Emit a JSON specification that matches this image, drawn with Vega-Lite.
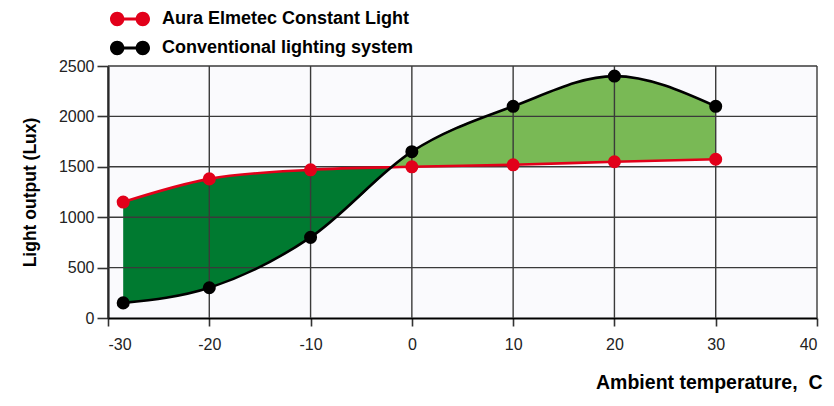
{
  "$schema": "https://vega.github.io/schema/vega-lite/v6.json",
  "autosize": {"type": "none"},
  "padding": {"left": 108, "top": 66, "right": 17, "bottom": 88},
  "width": 709,
  "height": 252,
  "background": "#ffffff",
  "config": {
    "view": {"stroke": null, "fill": "#fafafd"},
    "font": "Liberation Sans"
  },
  "datasets": {
    "series": [
      {"t": -28.5, "series": "Aura Elmetec Constant Light", "lux": 1150},
      {"t": -20, "series": "Aura Elmetec Constant Light", "lux": 1380},
      {"t": -10, "series": "Aura Elmetec Constant Light", "lux": 1470},
      {"t": 0, "series": "Aura Elmetec Constant Light", "lux": 1500},
      {"t": 10, "series": "Aura Elmetec Constant Light", "lux": 1520},
      {"t": 20, "series": "Aura Elmetec Constant Light", "lux": 1550},
      {"t": 30, "series": "Aura Elmetec Constant Light", "lux": 1575},
      {"t": -28.5, "series": "Conventional lighting system", "lux": 150},
      {"t": -20, "series": "Conventional lighting system", "lux": 300},
      {"t": -10, "series": "Conventional lighting system", "lux": 800},
      {"t": 0, "series": "Conventional lighting system", "lux": 1650},
      {"t": 10, "series": "Conventional lighting system", "lux": 2100},
      {"t": 20, "series": "Conventional lighting system", "lux": 2400},
      {"t": 30, "series": "Conventional lighting system", "lux": 2100}
    ],
    "bands": [
      {"t": -28.5, "red": 1150, "black": 150, "seg": "below"},
      {"t": -20, "red": 1380, "black": 300, "seg": "below"},
      {"t": -10, "red": 1470, "black": 800, "seg": "below"},
      {"t": -2, "red": 1495, "black": 1495, "seg": "below"},
      {"t": -2, "red": 1495, "black": 1495, "seg": "above"},
      {"t": 0, "red": 1500, "black": 1650, "seg": "above"},
      {"t": 10, "red": 1520, "black": 2100, "seg": "above"},
      {"t": 20, "red": 1550, "black": 2400, "seg": "above"},
      {"t": 30, "red": 1575, "black": 2100, "seg": "above"}
    ],
    "xgrid": [{"t": -30}, {"t": -20}, {"t": -10}, {"t": 0}, {"t": 10}, {"t": 20}, {"t": 30}, {"t": 40}],
    "ygrid": [{"v": 500}, {"v": 1000}, {"v": 1500}, {"v": 2000}, {"v": 2500}]
  },
  "layer": [
    {
      "data": {"name": "bands"},
      "transform": [{"filter": "datum.seg === 'below'"}],
      "mark": {"type": "area", "interpolate": "monotone", "color": "#007a30", "opacity": 1},
      "encoding": {
        "x": {"field": "t", "type": "quantitative"},
        "y": {"field": "red", "type": "quantitative"},
        "y2": {"field": "black"}
      }
    },
    {
      "data": {"name": "bands"},
      "transform": [{"filter": "datum.seg === 'above'"}],
      "mark": {"type": "area", "interpolate": "monotone", "color": "#79b955", "opacity": 1},
      "encoding": {
        "x": {"field": "t", "type": "quantitative"},
        "y": {"field": "black", "type": "quantitative"},
        "y2": {"field": "red"}
      }
    },
    {
      "data": {"name": "xgrid"},
      "mark": {"type": "rule", "color": "#3a3a3a", "strokeWidth": 1.4},
      "encoding": {"x": {"field": "t", "type": "quantitative"}}
    },
    {
      "data": {"name": "ygrid"},
      "mark": {"type": "rule", "color": "#3a3a3a", "strokeWidth": 1.4},
      "encoding": {"y": {"field": "v", "type": "quantitative"}}
    },
    {
      "data": {"name": "series"},
      "mark": {"type": "line", "interpolate": "monotone", "strokeWidth": 2.6},
      "encoding": {
        "x": {"field": "t", "type": "quantitative"},
        "y": {"field": "lux", "type": "quantitative"},
        "color": {"field": "series", "type": "nominal"},
        "order": {"field": "series", "sort": "descending"}
      }
    },
    {
      "data": {"name": "series"},
      "mark": {"type": "point", "filled": true, "size": 170, "opacity": 1, "shape": "circle"},
      "encoding": {
        "x": {
          "field": "t", "type": "quantitative",
          "scale": {"domain": [-30, 40], "nice": false, "zero": false},
          "axis": {
            "values": [-30, -20, -10, 0, 10, 20, 30, 40],
            "labelExpr": "'' + datum.value",
            "grid": false,
            "domainColor": "#000000", "domainWidth": 2,
            "tickColor": "#333333", "tickWidth": 1.6, "tickSize": 8,
            "labelFontSize": 16, "labelColor": "#222222", "labelPadding": 10,
            "title": "Ambient temperature,\u00a0\u00a0C",
            "titleFontSize": 19.5, "titleFontWeight": "bold", "titleColor": "#000000",
            "titleAnchor": "end", "titleAlign": "right", "titleX": 714, "titleY": 64, "titleBaseline": "middle"
          }
        },
        "y": {
          "field": "lux", "type": "quantitative",
          "scale": {"domain": [0, 2500], "nice": false},
          "axis": {
            "values": [0, 500, 1000, 1500, 2000, 2500],
            "labelExpr": "'' + datum.value",
            "grid": false,
            "domainColor": "#000000", "domainWidth": 2,
            "tickColor": "#333333", "tickWidth": 1.6, "tickSize": 11,
            "labelFontSize": 16, "labelColor": "#222222", "labelPadding": 3,
            "title": "Light output (Lux)",
            "titleFontSize": 17.5, "titleFontWeight": "bold", "titleColor": "#000000",
            "titleX": -78, "titleY": 126, "titleAnchor": "middle", "titleBaseline": "middle"
          }
        },
        "color": {
          "field": "series", "type": "nominal",
          "scale": {"domain": ["Aura Elmetec Constant Light", "Conventional lighting system"], "range": ["#e2001a", "#000000"]},
          "legend": {
            "title": null,
            "orient": "none",
            "legendX": 2,
            "legendY": -67,
            "symbolType": "M-1,0 A0.36,0.36 0 1,1 -0.28,0 A0.36,0.36 0 1,1 -1,0 Z M0.28,0 A0.36,0.36 0 1,1 1,0 A0.36,0.36 0 1,1 0.28,0 Z M-0.34,-0.075 L0.34,-0.075 L0.34,0.075 L-0.34,0.075 Z",
            "symbolSize": 1600,
            "symbolStrokeWidth": 0,
            "symbolOpacity": 1,
            "rowPadding": -12,
            "labelFontSize": 18,
            "labelFontWeight": "bold",
            "labelColor": "#000000",
            "labelOffset": 12,
            "labelLimit": 400,
            "encode": {"symbols": {"update": {"fill": {"scale": "color", "field": "value"}, "stroke": {"value": "transparent"}}}}
          }
        }
      }
    }
  ]
}
